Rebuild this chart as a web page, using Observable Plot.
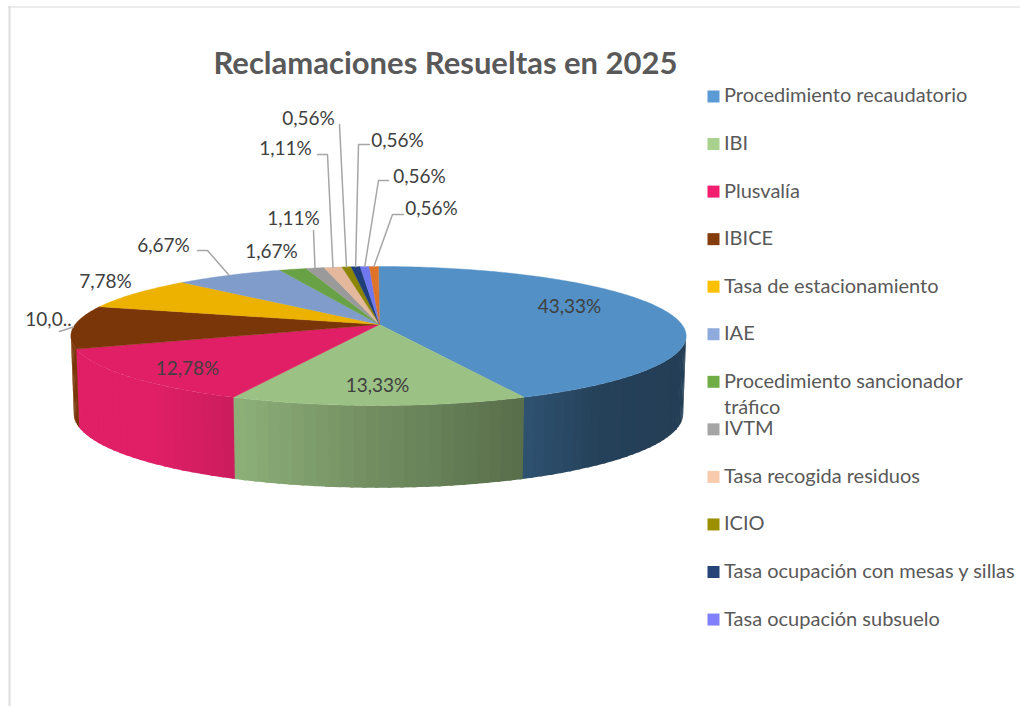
<!DOCTYPE html>
<html>
<head>
<meta charset="utf-8">
<script src="https://cdn.jsdelivr.net/npm/d3@7"></script>
<script src="https://cdn.jsdelivr.net/npm/@observablehq/plot@0.6"></script>
<style>html,body{margin:0;padding:0;background:#fff}svg{display:block}</style>
</head>
<body>
<div id="chart"></div>
<script>
const title = "Reclamaciones Resueltas en 2025";
const categories = ["Procedimiento recaudatorio","IBI","Plusvalía","IBICE","Tasa de estacionamiento","IAE","Procedimiento sancionador\ntráfico","IVTM","Tasa recogida residuos","ICIO","Tasa ocupación con mesas y sillas","Tasa ocupación subsuelo"];
const values = [43.33,13.33,12.78,10.00,7.78,6.67,1.67,1.11,1.11,0.56,0.56,0.56,0.56];
const labels = ["43,33%","13,33%","12,78%","10,0..","7,78%","6,67%","1,67%","1,11%","1,11%","0,56%","0,56%","0,56%","0,56%"];
const sliceColors = ["#5290C6","#9BC184","#E01F66","#7A3508","#EDB100","#7F9CCB","#69A246","#9A9A9A","#E4B89D","#8C8500","#203F7A","#7078F0","#DD7228"];
const legendColors = ["#5B9BD5","#A9D18E","#F21D6E","#843C0C","#FFC000","#8FAADC","#70AD47","#A5A5A5","#F8CBAD","#9C8F00","#264478","#8080FF"];

// Layout of the labels (centre of each text) and of the elbows of their leader lines
const labelX = [569,377,187,48,105,163,271,293,285,308,397,419,431];
const labelY = [306,385,368,319,281,245,251,218,148,118,140,176,208];
const leaderElbows = [null,null,null,[[59,331]],null,[[197,250],[207,250]],null,[[313,230]],[[317,154],[327,154]],[[339,124]],[[369,144],[358,144]],[[388,180],[378,180]],[[403,214],[392,214]]];

// Perspective model of the pie
const cx = 378, k = 0.1655;
const topRim = {a: 303.4, b: 67.6, y0: 324};
const botRim = {a: 300.5, b: 72, y0: 401};
const project = (deg, r) => {
  const t = deg * Math.PI / 180, s = Math.sin(t), c = Math.cos(t), w = 1 + k * c;
  return [cx + r.a * s / w, r.y0 - r.b * c / w];
};
const shade = d3.scaleLinear().domain([75,150,234,378,522,600,686]).range([1,1,.91,.73,.57,.45,.43]).clamp(true);
const darken = (col, f) => { const c = d3.rgb(col); return d3.rgb(c.r*f, c.g*f, c.b*f).formatHex(); };

const total = d3.sum(values);
const edges = d3.cumsum([0, ...values]).map(v => v / total * 360);

const sidePts = [], topPts = [];
const visFrom = 99.5, visTo = 260.5;
values.forEach((v, i) => {
  const a = edges[i], b = edges[i+1];
  // top wedge
  const n = Math.max(2, Math.ceil(b - a));
  const poly = [[cx + 1, topRim.y0]];
  for (let j = 0; j <= n; j++) poly.push(project(a + (b-a)*j/n, topRim));
  poly.push(poly[0]);
  poly.forEach(p => topPts.push({x:p[0], y:p[1], id:"t"+i, color:sliceColors[i]}));
  // side wall, split in narrow shaded strips that overlap the next one to hide seams
  const lo = Math.max(a, visFrom), hi = Math.min(b, visTo);
  if (hi > lo) {
    const m = Math.ceil((hi - lo) / 2);
    for (let j = 0; j < m; j++) {
      const t0 = lo + (hi-lo)*j/m, t1 = lo + (hi-lo)*(j+1)/m, t2 = Math.min(t1 + 0.6, visTo);
      const q = [project(t0,topRim), project(t2,topRim), project(t2,botRim), project(t0,botRim)];
      q.push(q[0]);
      const col = darken(sliceColors[i], shade((q[0][0]+project(t1,topRim)[0])/2));
      q.forEach(p => sidePts.push({x:p[0], y:p[1], id:`s${i}_${j}`, color:col}));
    }
  }
});

const leaderPts = [];
leaderElbows.forEach((el, i) => {
  if (!el) return;
  const end = project((edges[i]+edges[i+1])/2, topRim);
  [...el, end].forEach(p => leaderPts.push({x:p[0], y:p[1], id:i}));
});

const labelRows = labels.map((t,i) => ({t, x:labelX[i], y:labelY[i]}));
const legendRows = categories.map((name,i) => ({name, color:legendColors[i], x:713, tx:723.5, y:96 + i*47.55}));

const plot = Plot.plot({
  width:1020, height:706, margin:0,
  x:{domain:[0,1020], range:[0,1020], axis:null},
  y:{domain:[0,706], range:[0,706], axis:null},
  color:{type:"identity"},
  style:{fontFamily:"Lato, Carlito, sans-serif", background:"#fff"},
  marks:[
    Plot.ruleX([9], {y1:6, y2:706, stroke:"#DEDEDE", strokeWidth:2}),
    Plot.ruleY([6.5], {x1:8, x2:1020, stroke:"#D9D9D9", strokeWidth:1}),
    Plot.line(sidePts, {x:"x", y:"y", z:"id", fill:"color", stroke:null, curve:"linear"}),
    Plot.line(topPts, {x:"x", y:"y", z:"id", fill:"color", stroke:"color", strokeWidth:0.4, curve:"linear"}),
    Plot.line(leaderPts, {x:"x", y:"y", z:"id", stroke:"#A6A6A6", strokeWidth:1.5, curve:"linear"}),
    Plot.text(labelRows, {x:"x", y:"y", text:"t", fill:"#404040", fontSize:19}),
    Plot.text([title], {x:()=>445, y:()=>64, text:d=>d, fill:"#595959", fontSize:31, fontWeight:"bold"}),
    Plot.dot(legendRows, {x:"x", y:"y", r:6.77, symbol:"square", fill:"color", stroke:null}),
    Plot.text(legendRows, {x:"tx", y:"y", text:"name", textAnchor:"start", fill:"#595959", fontSize:20, lineHeight:1.3, lineAnchor:"top", dy:-12.5})
  ]
});
document.getElementById("chart").appendChild(plot);
</script>
</body>
</html>
